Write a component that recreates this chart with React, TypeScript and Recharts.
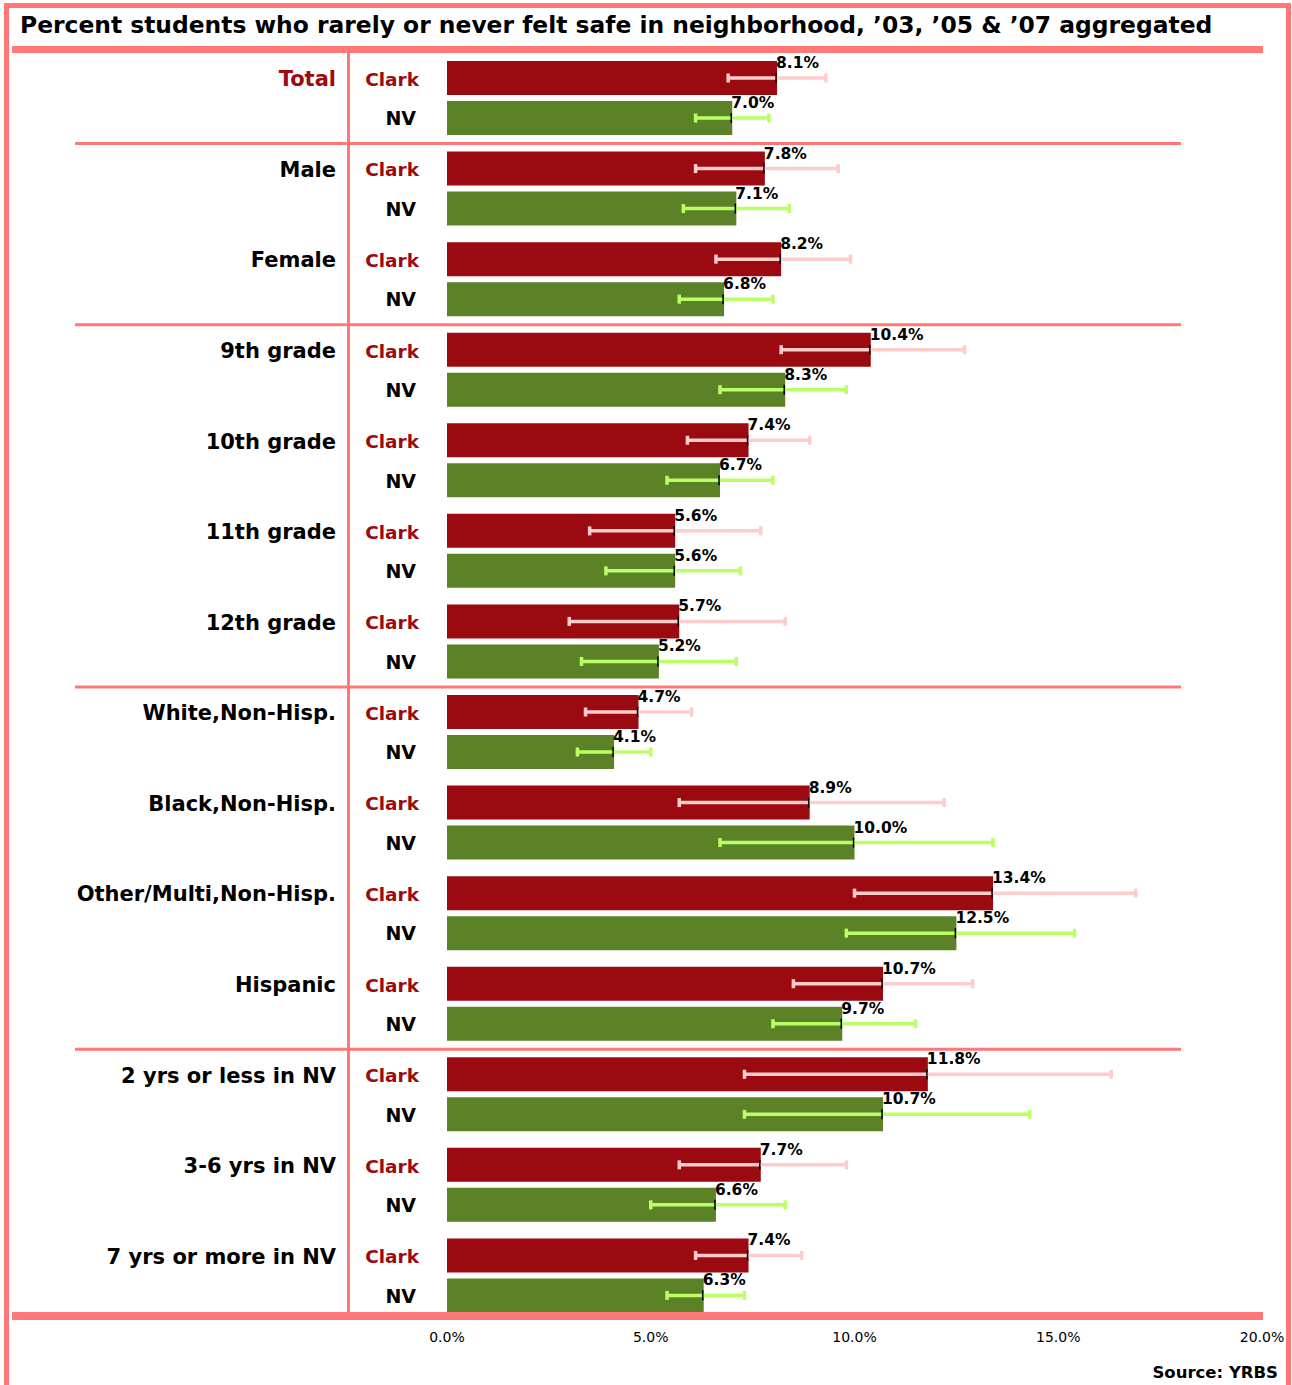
import { BarChart, Bar, XAxis, YAxis, ErrorBar, LabelList } from 'recharts';

const categories = [
  'Total',
  'Male',
  'Female',
  '9th grade',
  '10th grade',
  '11th grade',
  '12th grade',
  'White,Non-Hisp.',
  'Black,Non-Hisp.',
  'Other/Multi,Non-Hisp.',
  'Hispanic',
  '2 yrs or less in NV',
  '3-6 yrs in NV',
  '7 yrs or more in NV',
];

const clarkValues = [8.1, 7.8, 8.2, 10.4, 7.4, 5.6, 5.7, 4.7, 8.9, 13.4, 10.7, 11.8, 7.7, 7.4];
const nvValues = [7.0, 7.1, 6.8, 8.3, 6.7, 5.6, 5.2, 4.1, 10.0, 12.5, 9.7, 10.7, 6.6, 6.3];

// confidence interval bounds
const clarkLow = [6.9, 6.1, 6.6, 8.2, 5.9, 3.5, 3.0, 3.4, 5.7, 10.0, 8.5, 7.3, 5.7, 6.1];
const clarkHigh = [9.3, 9.6, 9.9, 12.7, 8.9, 7.7, 8.3, 6.0, 12.2, 16.9, 12.9, 16.3, 9.8, 8.7];
const nvLow = [6.1, 5.8, 5.7, 6.7, 5.4, 3.9, 3.3, 3.2, 6.7, 9.8, 8.0, 7.3, 5.0, 5.4];
const nvHigh = [7.9, 8.4, 8.0, 9.8, 8.0, 7.2, 7.1, 5.0, 13.4, 15.4, 11.5, 14.3, 8.3, 7.3];

const xTicks = [0, 5, 10, 15, 20];
const groupStarts = ['Male', '9th grade', 'White,Non-Hisp.', '2 yrs or less in NV'];

const data = categories.map((name, i) => ({
  name,
  clark: clarkValues[i],
  nv: nvValues[i],
  clarkErr: [clarkValues[i] - clarkLow[i], clarkHigh[i] - clarkValues[i]],
  nvErr: [nvValues[i] - nvLow[i], nvHigh[i] - nvValues[i]],
}));

const FONT = '"DejaVu Sans", sans-serif';
const PINK = '#FF7777';
const CLARK = '#9C0A11';
const NV = '#5B8226';
const CLARK_ERR = '#FFCCCC';
const NV_ERR = '#BBFF66';

const CategoryTick = (props: any) => {
  const { x, y, payload } = props;
  const name = payload.value;
  const half = payload.offset ?? 45.3;
  const top = y - half;
  return (
    <g fontFamily={FONT} fontWeight="bold">
      {groupStarts.includes(name) && (
        <line x1={75} x2={1181} y1={top} y2={top} stroke={PINK} strokeWidth={3} />
      )}
      <text
        x={x - 111}
        y={y - 19}
        textAnchor="end"
        dominantBaseline="central"
        fontSize={21}
        fill={name === 'Total' ? CLARK : '#000'}
      >
        {name}
      </text>
      <text x={x - 28} y={y - 19} textAnchor="end" dominantBaseline="central" fontSize={18.5} fill={CLARK}>
        Clark
      </text>
      <text x={x - 31} y={y + 20} textAnchor="end" dominantBaseline="central" fontSize={19} fill="#000">
        NV
      </text>
    </g>
  );
};

const renderValueLabel = (props: any) => {
  const { x, y, width, height, value } = props;
  const end = Number(x) + Number(width);
  const mid = Number(y) + Number(height) / 2;
  return (
    <g>
      <line x1={end - 1} x2={end - 1} y1={mid - 5} y2={mid + 5} stroke="#000" strokeWidth={1.5} />
      <text x={end - 1} y={Number(y) + 7} fontSize={15.5} fontWeight="bold" fill="#000" fontFamily={FONT}>
        {Number(value).toFixed(1)}%
      </text>
    </g>
  );
};

const box = (left: number, top: number, width: number, height: number) => ({
  position: 'absolute' as const,
  left,
  top,
  width,
  height,
  background: PINK,
});

const App = () => {
  return (
    <div
      style={{
        position: 'absolute',
        left: 0,
        top: 0,
        width: 1292,
        height: 1385,
        overflow: 'hidden',
        background: '#fff',
        fontFamily: FONT,
      }}
    >
      <style>{'.recharts-errorBar line { stroke-width: 3.5px; }'}</style>
      <div
        style={{
          position: 'absolute',
          left: 4,
          top: 3,
          width: 1277,
          height: 1420,
          borderLeft: `5px solid ${PINK}`,
          borderTop: `5px solid ${PINK}`,
          borderRight: `5px solid ${PINK}`,
        }}
      />
      <div
        style={{
          position: 'absolute',
          left: 20,
          top: 9,
          fontSize: 23.4,
          fontWeight: 'bold',
          color: '#000',
          whiteSpace: 'nowrap',
          lineHeight: '32px',
        }}
      >
        Percent students who rarely or never felt safe in neighborhood, ’03, ’05 &amp; ’07 aggregated
      </div>

      <div style={{ position: 'absolute', left: 0, top: 0 }}>
        <BarChart
          width={1292}
          height={1385}
          data={data}
          layout="vertical"
          margin={{ top: 53, right: 30, bottom: 34, left: 0 }}
          barSize={34}
          barGap={6}
        >
          <XAxis
            type="number"
            domain={[0, 20]}
            ticks={xTicks}
            tickFormatter={(v: number) => `${v.toFixed(1)}%`}
            axisLine={false}
            tickLine={false}
            tickSize={0}
            tickMargin={11}
            height={30}
            allowDataOverflow
            tick={{ fontSize: 14, fill: '#000', fontFamily: FONT }}
          />
          <YAxis
            type="category"
            dataKey="name"
            width={447}
            axisLine={false}
            tickLine={false}
            tickSize={0}
            tickMargin={0}
            interval={0}
            tick={(p: any) => <CategoryTick {...p} />}
          />
          <Bar dataKey="clark" fill={CLARK} isAnimationActive={false}>
            <ErrorBar dataKey="clarkErr" direction="x" width={4.5} strokeWidth={3.5} stroke={CLARK_ERR} />
            <LabelList dataKey="clark" content={renderValueLabel} />
          </Bar>
          <Bar dataKey="nv" fill={NV} isAnimationActive={false}>
            <ErrorBar dataKey="nvErr" direction="x" width={4.5} strokeWidth={3.5} stroke={NV_ERR} />
            <LabelList dataKey="nv" content={renderValueLabel} />
          </Bar>
        </BarChart>
      </div>

      <div style={box(12, 46, 1251, 7)} />
      <div style={box(347, 53, 3, 1259)} />
      <div style={box(12, 1312, 1251, 8)} />

      <div
        style={{
          position: 'absolute',
          right: 14,
          top: 1363,
          fontSize: 16.5,
          fontWeight: 'bold',
          color: '#000',
          lineHeight: '20px',
        }}
      >
        Source: YRBS
      </div>
    </div>
  );
};

export default App;
